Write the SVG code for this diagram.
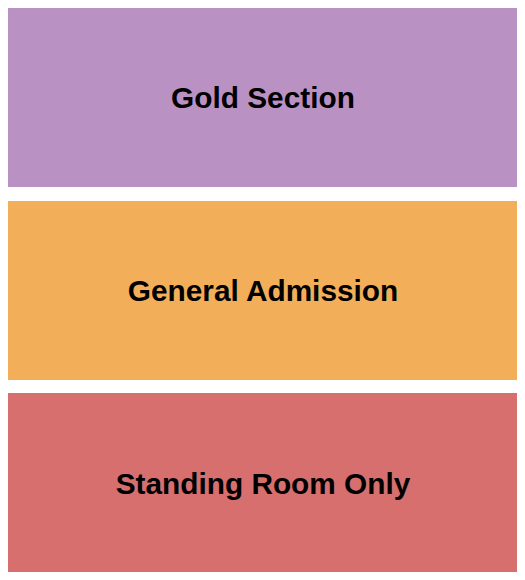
<svg xmlns="http://www.w3.org/2000/svg" width="525" height="580" viewBox="0 0 525 580">
<style>
.lbl{font-family:"Liberation Sans",Arial,sans-serif;font-weight:bold;font-size:29.8px;fill:#000;text-anchor:middle}
</style>
<rect width="525" height="580" fill="#fff"/>
<g id="gold"><rect x="8" y="8" width="509" height="179" fill="#B992C3"/><text class="lbl" x="263" y="107.5">Gold Section</text></g>
<g id="ga"><rect x="8" y="201" width="509" height="179" fill="#F3AE59"/><text class="lbl" x="263" y="300.5">General Admission</text></g>
<g id="sro"><rect x="8" y="393" width="509" height="179" fill="#D76F6E"/><text class="lbl" x="263" y="493.5">Standing Room Only</text></g>
<g id="connectors"/>
</svg>
